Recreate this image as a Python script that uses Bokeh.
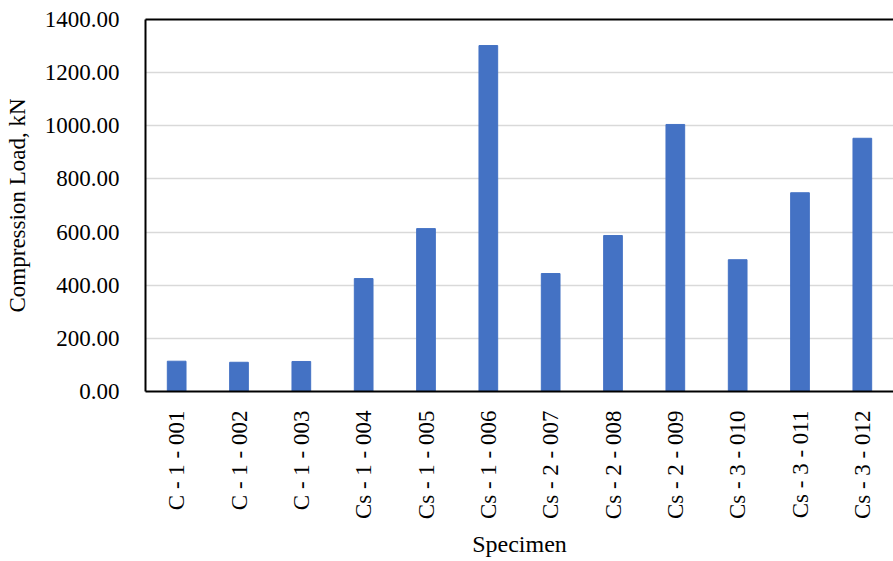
from bokeh.plotting import figure
from bokeh.models import FactorRange, Range1d, LinearAxis, NumeralTickFormatter, FixedTicker, ColumnDataSource
from bokeh.embed import file_html
from bokeh.resources import INLINE

specimens = ["C - 1 - 001", "C - 1 - 002", "C - 1 - 003", "Cs - 1 - 004", "Cs - 1 - 005",
             "Cs - 1 - 006", "Cs - 2 - 007", "Cs - 2 - 008", "Cs - 2 - 009", "Cs - 3 - 010",
             "Cs - 3 - 011", "Cs - 3 - 012"]
loads = [114, 110, 113, 425, 613, 1302, 444, 587, 1005, 496, 748, 953]
y_ticks = [0, 200, 400, 600, 800, 1000, 1200, 1400]

FONT = "Liberation Serif"

src = ColumnDataSource(dict(x=specimens, top=loads))

p = figure(width=893, height=561, x_range=FactorRange(*specimens), y_range=Range1d(0, 1400),
           output_backend="svg", toolbar_location=None,
           min_border_left=145, min_border_top=19, min_border_bottom=170, min_border_right=0)

p.vbar(x="x", top="top", width=0.3, source=src, fill_color="#4472C4", line_color="#4472C4")

p.outline_line_color = None
p.background_fill_color = "white"
p.border_fill_color = "white"

# y axis
ya = p.yaxis[0]
ya.ticker = FixedTicker(ticks=y_ticks)
ya.formatter = NumeralTickFormatter(format="0.00")
ya.axis_label = "Compression Load, kN"
ya.axis_label_text_font = FONT
ya.axis_label_text_font_style = "normal"
ya.axis_label_text_font_size = "23px"
ya.axis_label_text_color = "black"
ya.axis_label_standoff = 12
ya.major_label_text_font = FONT
ya.major_label_text_font_size = "23px"
ya.major_label_text_color = "black"
ya.major_label_standoff = 20
ya.major_tick_line_color = None
ya.minor_tick_line_color = None
ya.axis_line_color = "black"
ya.axis_line_width = 2

# x axis
xa = p.xaxis[0]
xa.axis_label = "Specimen"
xa.axis_label_text_font = FONT
xa.axis_label_text_font_style = "normal"
xa.axis_label_text_font_size = "24px"
xa.axis_label_text_color = "black"
xa.axis_label_standoff = 9
xa.major_label_text_font = FONT
xa.major_label_text_font_size = "23px"
xa.major_label_text_color = "black"
xa.major_label_orientation = 1.5708
xa.major_label_standoff = 13
xa.major_tick_line_color = None
xa.axis_line_color = "black"
xa.axis_line_width = 2

# top border
top = LinearAxis(ticker=FixedTicker(ticks=[]), major_label_text_font_size="0px",
                 major_tick_line_color=None, minor_tick_line_color=None,
                 axis_line_color="black", axis_line_width=2)
p.add_layout(top, "above")

p.xgrid.grid_line_color = None
p.ygrid.grid_line_color = "#d9d9d9"
p.ygrid.grid_line_width = 1.5
p.ygrid.ticker = FixedTicker(ticks=y_ticks)

open("out.html", "w").write(file_html(p, INLINE))
